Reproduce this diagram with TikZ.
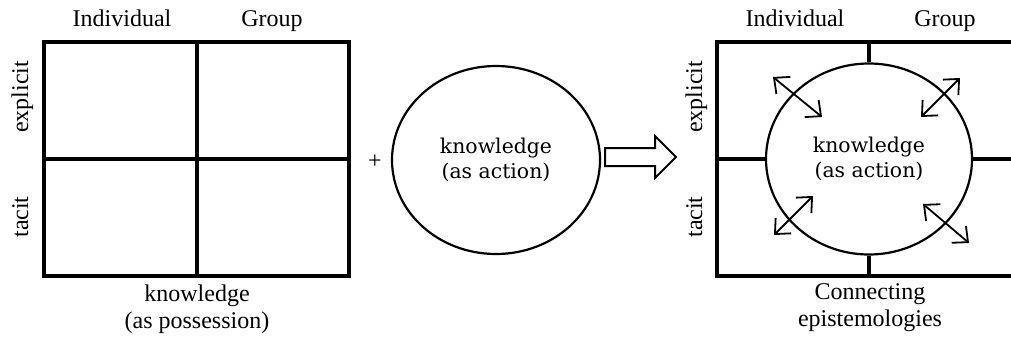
\documentclass[tikz,border=0pt]{standalone}
\usepackage{fontspec}
\setmainfont{Liberation Serif}
\newfontfamily\circfont{DejaVu Serif}
\usepackage{tikz}
\usetikzlibrary{arrows.meta,shapes.geometric}
\tikzset{
  gridline/.style = {line width=1.6pt},
  heading/.style  = {font=\fontsize{12}{14}\selectfont, inner sep=0pt, anchor=base},
  side/.style     = {heading, rotate=90},
  caption/.style  = {font=\fontsize{12}{13.5}\selectfont, inner sep=0pt, align=center},
  knowcirc/.style = {ellipse, draw, line width=1.1pt, align=center,
                     font=\circfont\fontsize{10.2}{12.5}\selectfont},
  flow/.style     = {line width=0.9pt, {Straight Barb[length=6pt,width=11pt]}-{Straight Barb[length=6pt,width=11pt]}}
}

\begin{document}
\begin{tikzpicture}[x=0.5pt, y=-0.5pt]
  \useasboundingbox (0,0) rectangle (1011,343);

  % knowledge as possession
  \draw[gridline] (44,42) rectangle (349,276);
  \draw[gridline] (197,42) -- (197,276);
  \draw[gridline] (44,159) -- (349,159);
  \node[heading] (indl) at (122,26) {Individual};
  \node[heading] (grpl) at (272,26) {Group};
  \node[side] (expl) at (28,97) {explicit};
  \node[side] (tacl) at (28,217) {tacit};
  \node[caption] (possess) at (197,309) {knowledge\\(as possession)};

  % plus, knowledge as action
  \node[heading] (plus) at (375,168) {+};
  \node[knowcirc, minimum width=104pt, minimum height=94pt] (action) at (496,160)
    {knowledge\\(as action)};

  % block arrow
  \draw[line width=1pt] (605,148) -- (655,148) -- (655,136) -- (676,157)
    -- (655,178) -- (655,166) -- (605,166) -- cycle;

  % connecting epistemologies
  \node[knowcirc, minimum width=103pt, minimum height=95.5pt] (connect) at (869,159)
    {knowledge\\(as action)};
  \coordinate (tl) at (717,42);
  \coordinate (br) at (1022,276);
  \draw[gridline] (tl) rectangle (br);
  \draw[gridline] (connect.north) -- (connect.north |- tl);
  \draw[gridline] (connect.south) -- (connect.south |- br);
  \draw[gridline] (connect.west) -- (connect.west -| tl);
  \draw[gridline] (connect.east) -- (connect.east -| br);
  \node[heading] (indr) at (795,26) {Individual};
  \node[heading] (grpr) at (945,26) {Group};
  \node[side] (expr) at (702,97) {explicit};
  \node[side] (tacr) at (702,217) {tacit};
  \node[caption] (epist) at (870,308) {Connecting\\epistemologies};

  \coordinate (ul1) at (773,77);  \coordinate (ul2) at (822,117);
  \coordinate (ur1) at (960,78);  \coordinate (ur2) at (921,117);
  \coordinate (ll1) at (813,196); \coordinate (ll2) at (774,235);
  \coordinate (lr1) at (923,204); \coordinate (lr2) at (969,243);
  \draw[flow] (ul1) -- (ul2);
  \draw[flow] (ur1) -- (ur2);
  \draw[flow] (ll1) -- (ll2);
  \draw[flow] (lr1) -- (lr2);
\end{tikzpicture}
\end{document}
